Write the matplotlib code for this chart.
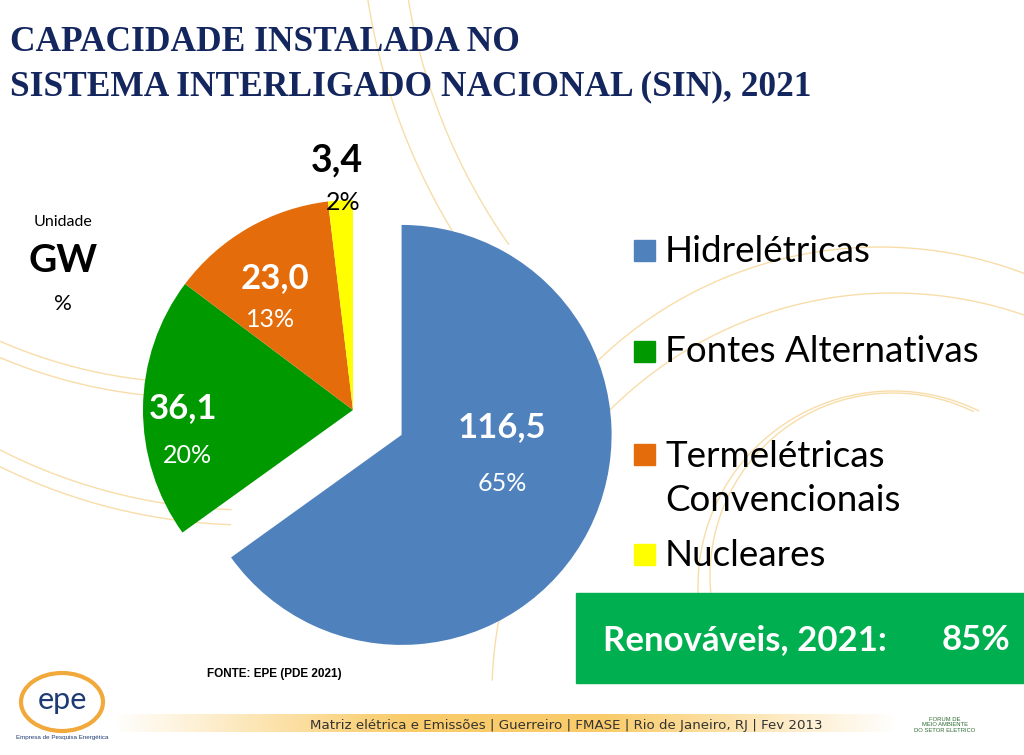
import numpy as np
import matplotlib.pyplot as plt
from matplotlib.patches import Rectangle, Ellipse

# data
CATEGORIES = ["Hidrelétricas", "Fontes Alternativas", "Termelétricas\nConvencionais", "Nucleares"]
VALUES_GW = [116.5, 36.1, 23.0, 3.4]
VALUE_LABELS = ["116,5", "36,1", "23,0", "3,4"]
PCT_LABELS = ["65%", "20%", "13%", "2%"]
COLORS = ["#4F81BD", "#009A00", "#E46C0A", "#FFFF00"]
RENOVAVEIS = "85%"

TITLE_LINES = ["CAPACIDADE INSTALADA NO", "SISTEMA INTERLIGADO NACIONAL (SIN), 2021"]
NAVY = "#14265E"
W, H = 1024, 755


def fx(x):
    return x / W


def fy(y):
    return 1 - y / H


fig = plt.figure(figsize=(W / 100, H / 100), dpi=100)

# background decoration (faint arcs + footer band), pixel coords, y down
bg = fig.add_axes([0, 0, 1, 1], zorder=0)
arcs = [
    (200, -117, 500, 240, 272), (200, -117, 515, 240, 272),
    (250, -40, 550, 238, 268), (250, -40, 565, 238, 268),
    (1000, -100, 640, 185, 215), (1000, -100, 600, 185, 215),
    (880, 654, 407, 60, 175), (893, 694, 401, 60, 178),
    (893, 576, 183, 64, 185), (893, 586, 195, 64, 185),
]
for cx, cy, r, a1, a2 in arcs:
    t = np.radians(np.linspace(a1, a2, 200))
    # screen angles, counter-clockwise with y pointing up
    bg.plot(cx + r * np.cos(t), cy - r * np.sin(t), color="#F7D79A", lw=1.0, alpha=0.85)

grad = np.concatenate([np.linspace(0, 1, 60), np.ones(40), np.linspace(1, 0, 60)])
band = np.ones((1, grad.size, 4))
band[0, :, 0] = 0.98
band[0, :, 1] = 0.78
band[0, :, 2] = 0.35
band[0, :, 3] = grad * 0.9
bg.imshow(band, extent=(110, 900, 732, 714), aspect="auto", zorder=1)
bg.set_xlim(0, W)
bg.set_ylim(H, 0)
bg.axis("off")

# pie: unexploded centre at (353, 410), radius 210 px
R = 210
half = 300
ax = fig.add_axes([fx(353 - half), fy(410 + half), 2 * half / W, 2 * half / H], zorder=2)
ax.pie(VALUES_GW, colors=COLORS, startangle=90, counterclock=False,
       explode=[0.26, 0, 0, 0], radius=1, wedgeprops=dict(linewidth=0))
ax.set_xlim(-half / R, half / R)
ax.set_ylim(-half / R, half / R)
ax.set_aspect("equal")
ax.axis("off")

label_pos = [(0.71, -0.08, 0.71, -0.35), (-0.81, 0.01, -0.79, -0.215),
             (-0.37, 0.63, -0.395, 0.43), (-0.075, 1.19, -0.045, 0.99)]
label_col = ["white", "white", "white", "black"]
for i, (vx, vy, px, py) in enumerate(label_pos):
    ax.text(vx, vy, VALUE_LABELS[i], ha="center", va="center", fontsize=27 if i == 3 else 25,
            fontweight="bold", color=label_col[i], family="Lato")
    ax.text(px, py, PCT_LABELS[i], ha="center", va="center", fontsize=18,
            color=label_col[i], family="Lato")

# title
for line, base in zip(TITLE_LINES, [51, 95]):
    fig.text(fx(10), fy(base), line, ha="left", va="baseline", fontsize=25.5,
             fontweight="bold", color=NAVY, family="Liberation Serif")

# units
fig.text(fx(63), fy(222), "Unidade", ha="center", va="center", fontsize=11.5, family="Lato")
fig.text(fx(63), fy(260), "GW", ha="center", va="center", fontsize=28,
         fontweight="bold", family="Lato")
fig.text(fx(63), fy(304), "%", ha="center", va="center", fontsize=16, family="Lato")

# legend drawn by hand
legend_y = [251, 352, 455, 555]
for col, lab, y in zip(COLORS, CATEGORIES, legend_y):
    fig.patches.append(Rectangle((fx(634), fy(y + 10)), 21 / W, 21 / H,
                                 transform=fig.transFigure, color=col, zorder=3))
    if "\n" in lab:
        fig.text(fx(665), fy(y - 15), lab, ha="left", va="top", fontsize=26.5,
                 family="Lato", linespacing=1.4)
    else:
        fig.text(fx(665), fy(y), lab, ha="left", va="center", fontsize=26.5, family="Lato")

# renewables box
fig.patches.append(Rectangle((fx(576), fy(683)), (W - 576) / W, 90 / H,
                             transform=fig.transFigure, color="#00B050", zorder=3))
fig.text(fx(603), fy(640), "Renováveis, 2021:", ha="left", va="center", fontsize=25,
         fontweight="bold", color="white", family="Lato", zorder=4)
fig.text(fx(1010), fy(640), RENOVAVEIS, ha="right", va="center", fontsize=25,
         fontweight="bold", color="white", family="Lato", zorder=4)

# source / footer
fig.text(fx(207), fy(674), "FONTE: EPE (PDE 2021)", ha="left", va="center", fontsize=8.5,
         fontweight="bold", family="Liberation Sans")
fig.text(fx(566), fy(726), "Matriz elétrica e Emissões | Guerreiro | FMASE | Rio de Janeiro, RJ | Fev 2013",
         ha="center", va="center", fontsize=9.6,
         family=["Liberation Sans Narrow", "DejaVu Sans"], color="#333333", zorder=5)

# logos
bg.add_patch(Ellipse((62, 702), 82, 58, fill=False, ec="#F2A93B", lw=3))
bg.text(62, 700, "epe", ha="center", va="center", fontsize=22, color="#1F3B73", family="Lato")
bg.text(62, 737, "Empresa de Pesquisa Energética", ha="center", va="center",
        fontsize=4.5, color="#1F3B73", family="Liberation Sans")
bg.text(945, 725, "FORUM DE\nMEIO AMBIENTE\nDO SETOR ELETRICO", ha="center", va="center",
        fontsize=4.2, color="#2E6B30", family="Liberation Sans", linespacing=1.1)

fig.savefig("out.png", dpi=100)
